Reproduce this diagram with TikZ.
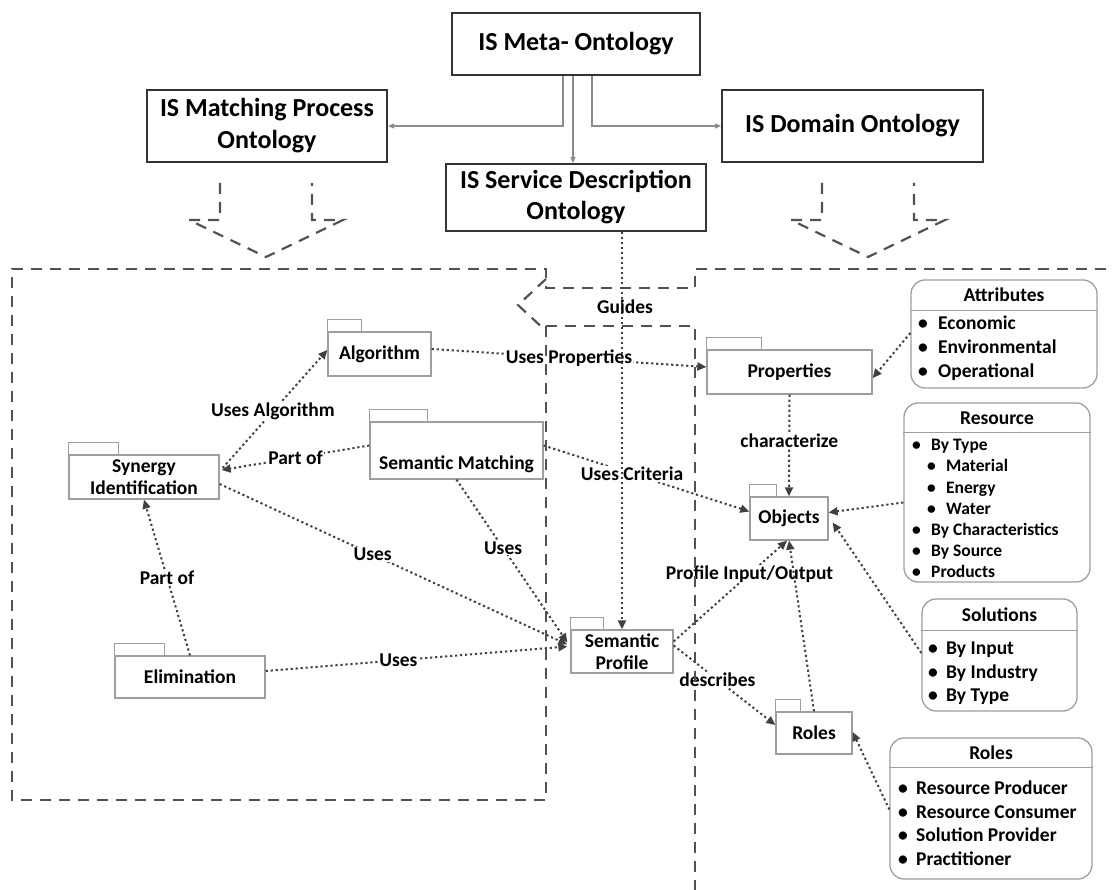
\documentclass[tikz,border=0pt]{standalone}
\usepackage{fontspec}
\setmainfont{Carlito}
\usetikzlibrary{arrows.meta,calc,fit}

\begin{document}
\begin{tikzpicture}[
    x = 1pt,
    y = -1pt,
    >={Triangle[length=9pt,width=8pt]},
    onto/.style = {
      draw = black!80,
      line width = 2pt,
      align = center,
      inner sep = 0pt,
      font = \fontsize{26}{31}\selectfont\bfseries
    },
    pkg/.style = {
      draw = black!38,
      line width = 1.3pt,
      fill = white,
      align = center,
      inner sep = 0pt,
      font = \fontsize{19.5}{22}\selectfont\bfseries
    },
    tab/.style = {draw = black!38, line width = 1.3pt},
    rel/.style = {draw = black!75, line width = 2pt, dash pattern = on 2.2pt off 2.8pt, ->},
    lbl/.style = {fill = white, inner sep = 1pt, font = \fontsize{19.5}{22}\selectfont\bfseries},
    region/.style = {draw = black!68, line width = 2.2pt, dash pattern = on 11pt off 8pt},
    feed/.style = {draw = black!45, line width = 1.2pt, -{Triangle[length=6pt,width=5pt]}},
    cls/.style = {draw = black!38, line width = 1.3pt, rounded corners = 14pt, inner sep = 0pt},
    clshead/.style = {inner sep = 0pt, font = \fontsize{19.5}{22}\selectfont\bfseries},
    item/.style = {
      anchor = west,
      inner sep = 0pt,
      text height = 13pt,
      text depth = 4pt,
      font = \fontsize{19.5}{22}\selectfont\bfseries
    },
    small/.style = {text height = 12pt, text depth = 3pt, font = \fontsize{17.5}{20}\selectfont\bfseries}
  ]
  \useasboundingbox (0,0) rectangle (1114,890);

  % ontologies
  \node[onto, minimum width=248pt, minimum height=62pt] (meta) at (576,44) {IS Meta- Ontology};
  \node[onto, minimum width=240pt, minimum height=72pt, font=\fontsize{26}{32}\selectfont\bfseries] (match) at (267,126) {IS Matching Process\\Ontology};
  \node[onto, minimum width=261pt, minimum height=72pt] (domain) at (852.5,126) {IS Domain Ontology};
  \node[onto, minimum width=260pt, minimum height=67pt] (service) at (576,197.5) {IS Service Description\\Ontology};

  \draw[feed] ($(meta.south)+(-13,0)$) |- (match.east);
  \draw[feed] ($(meta.south)+(-3,0)$) -- ($(service.north)+(-3,0)$);
  \draw[feed] ($(meta.south)+(16,0)$) |- (domain.west);

  \foreach \cx in {266,868}
    \draw[region] (\cx-46,183) -- (\cx-46,220) -- (\cx-77,220) -- (\cx,257) -- (\cx+77,220) -- (\cx+46,220) -- (\cx+46,183);

  % packages
  \node[pkg, minimum width=103pt, minimum height=44pt] (alg) at (379.5,354) {Algorithm};
  \node[pkg, minimum width=173pt, minimum height=57pt, text height=40pt, text depth=3pt] (sm) at (456.5,450.5) {Semantic Matching};
  \node[pkg, minimum width=150pt, minimum height=44pt] (syn) at (144,477) {Synergy\\Identification};
  \node[pkg, minimum width=150pt, minimum height=42pt] (elim) at (190,677) {Elimination};
  \node[pkg, minimum width=165pt, minimum height=44pt] (prop) at (789.5,372) {Properties};
  \node[pkg, minimum width=78pt, minimum height=43pt] (obj) at (789,518.5) {Objects};
  \node[pkg, minimum width=102pt, minimum height=43pt] (sp) at (622,651.5) {Semantic\\Profile};
  \node[pkg, minimum width=76pt, minimum height=42pt] (rolepkg) at (814,733) {Roles};

  \foreach \n/\w in {alg/34, sm/58, syn/50, elim/50, prop/55, obj/27, sp/33, rolepkg/25}
    \draw[tab] (\n.north west) rectangle ++(\w,-12);

  % attribute lists
  \node[cls, fit={(911,280) (1097,388)}] (attr) {};
  \draw[tab] ($(attr.north west)+(0,31)$) -- ($(attr.north east)+(0,31)$);
  \node[clshead] (attrhead) at (1004,295) {Attributes};
  \foreach \t [count=\i] in {Economic, Environmental, Operational}
    \node[item] (attr\i) at (918,301+24*\i) {\makebox[20pt][l]{\textbullet}\t};

  \node[cls, fit={(904,403) (1090,582)}] (res) {};
  \draw[tab] ($(res.north west)+(0,30)$) -- ($(res.north east)+(0,30)$);
  \node[clshead] (reshead) at (997,418) {Resource};
  \foreach \t/\dx [count=\i] in {By Type/0, Material/15, Energy/15, Water/15, By Characteristics/0, By Source/0, Products/0}
    \node[item, small] (res\i) at (912+\dx,425+21.2*\i) {\makebox[19pt][l]{\textbullet}\t};

  \node[cls, fit={(922,599) (1077,711)}] (sol) {};
  \draw[tab] ($(sol.north west)+(0,32)$) -- ($(sol.north east)+(0,32)$);
  \node[clshead] (solhead) at (999.5,615) {Solutions};
  \foreach \t [count=\i] in {By Input, By Industry, By Type}
    \node[item] (sol\i) at (928,626.5+23.5*\i) {\makebox[18pt][l]{\textbullet}\t};

  \node[cls, fit={(890,738) (1092,879)}] (roles) {};
  \draw[tab] ($(roles.north west)+(0,30)$) -- ($(roles.north east)+(0,30)$);
  \node[clshead] (roleshead) at (991,753) {Roles};
  \foreach \t [count=\i] in {Resource Producer, Resource Consumer, Solution Provider, Practitioner}
    \node[item] (roles\i) at (898,766.5+23.6*\i) {\makebox[18pt][l]{\textbullet}\t};

  % relations
  \draw[rel] ($(syn.east)+(3,-9)$) -- node[lbl, pos=0.48] (usealg) {Uses Algorithm} ($(alg.west)+(0,-4)$);
  \draw[rel] ($(sm.west)+(0,-5)$) -- node[lbl] (partsm) {Part of} ($(syn.east)+(2,-7)$);
  \draw[rel] (elim.north) -- node[lbl] (partelim) {Part of} (syn.south);
  \draw[rel] ($(syn.east)+(0,7)$) -- node[lbl, pos=0.44] (usesyn) {Uses} ($(sp.west)+(-3,-7)$);
  \draw[rel] (sm.south) -- node[lbl, pos=0.42] (usesm) {Uses} ($(sp.west)+(-3,-9)$);
  \draw[rel] ($(elim.east)+(0,-6)$) -- node[lbl, pos=0.44] (useelim) {Uses} ($(sp.west)+(-3,-5)$);
  \draw[rel] ($(alg.east)+(0,-5)$) -- node[lbl] (useprop) {Uses Properties} ($(prop.west)+(0,-5)$);
  \draw[rel] ($(sm.east)+(0,-5)$) -- node[lbl, pos=0.43] (usecrit) {Uses Criteria} ($(obj.west)+(0,-7)$);
  \draw[rel] (prop.south) -- node[lbl, pos=0.45] (charac) {characterize} (obj.north);
  \draw[rel] ($(attr.west)+(0,-1)$) -- ($(prop.east)+(0,6)$);
  \draw[rel] ($(res.west)+(0,10)$) -- ($(obj.east)+(0,-6)$);
  \draw[rel] ($(sol.west)+(0,-2)$) -- ($(obj.east)+(4,4)$);
  \draw[rel] ($(sp.east)+(0,-10)$) -- node[lbl, pos=0.67] (profio) {Profile Input/Output} ($(obj.south)+(-2,0)$);
  \draw[rel] (rolepkg.north) -- (obj.south);
  \draw[rel] ($(sp.east)+(0,-6)$) -- node[lbl, pos=0.43] (descr) {describes} ($(rolepkg.west)+(0,-8)$);
  \draw[rel] ($(roles.west)+(0,1)$) -- ($(rolepkg.east)+(0,-1)$);

  % regions and the guides arrow
  \draw[region] (546,326) -- (546,800) -- (12,800) -- (12,269) -- (546,269) -- (546,288) -- (695,288) -- (695,269) -- (1114,269);
  \draw[region] (546,279) -- (518,305) -- (546,331);
  \draw[region] (546,326) -- (695,326) -- (695,890);

  \draw[rel] ($(service.south)+(46,0)$) -- (sp.north);
  \node[lbl, fill=none] (guides) at (625,307) {Guides};

\end{tikzpicture}
\end{document}
